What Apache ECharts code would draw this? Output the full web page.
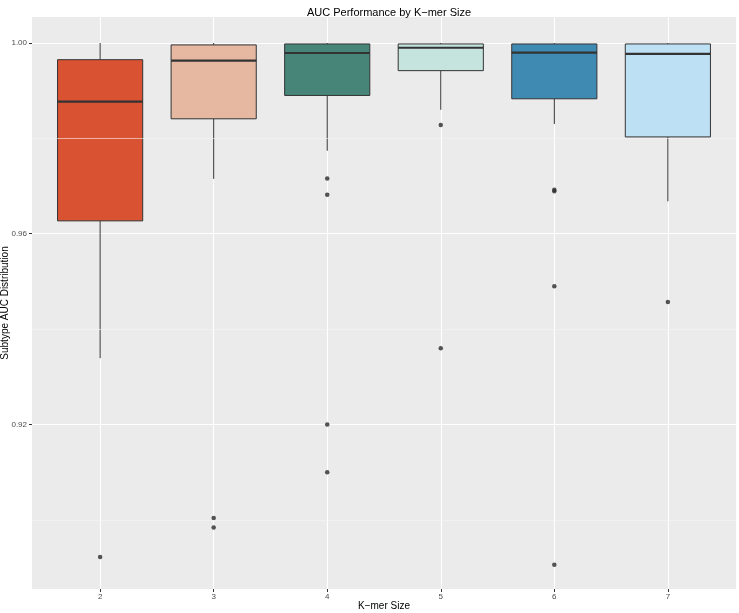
<!DOCTYPE html>
<html>
<head>
<meta charset="utf-8">
<script src="https://cdn.jsdelivr.net/npm/echarts@6/dist/echarts.min.js"></script>
<style>
html,body{margin:0;padding:0;background:#fff;}
#chart{width:739px;height:613px;}
</style>
</head>
<body>
<div id="chart"></div>
<script>
// ---- data ----
const kmerSizes   = [2, 3, 4, 5, 6, 7];
const whiskerLow  = [0.9339, 0.9715, 0.9774, 0.9860, 0.9830, 0.9668];
const q1Values    = [0.9627, 0.9841, 0.9890, 0.9942, 0.9883, 0.9803];
const medianVals  = [0.9877, 0.9963, 0.9979, 0.9990, 0.9980, 0.9977];
const q3Values    = [0.9965, 0.9996, 0.9998, 0.9998, 0.9998, 0.9998];
const whiskerHigh = [1.0000, 1.0000, 1.0000, 1.0000, 1.0000, 1.0000];
const outliers2 = [0.8922];
const outliers3 = [0.9004, 0.8984];
const outliers4 = [0.9716, 0.9682, 0.9200, 0.9100];
const outliers5 = [0.9828, 0.9360];
const outliers6 = [0.9692, 0.9689, 0.9490, 0.8906];
const outliers7 = [0.9457];
const yTickValues = [0.92, 0.96, 1.00];
const yMinorValues = [0.90, 0.94, 0.98];

// ---- styling ----
const boxColors = ['#D95232', '#E6B7A1', '#468578', '#C5E4DD', '#3F8AB3', '#BEE0F4'];

const boxData = kmerSizes.map((k, i) => [k, whiskerLow[i], q1Values[i], medianVals[i], q3Values[i], whiskerHigh[i]]);
const outlierLists = [outliers2, outliers3, outliers4, outliers5, outliers6, outliers7];
const outlierData = [];
outlierLists.forEach((list, i) => list.forEach(v => outlierData.push([kmerSizes[i], v])));

function renderBox(params, api) {
  const x = api.value(0);
  const lo = api.coord([x, api.value(1)]);
  const q1 = api.coord([x, api.value(2)]);
  const med = api.coord([x, api.value(3)]);
  const q3 = api.coord([x, api.value(4)]);
  const hi = api.coord([x, api.value(5)]);
  const half = api.size([0.75, 0])[0] / 2;
  const cx = lo[0];
  const stroke = '#333333';
  return {
    type: 'group',
    children: [
      {type: 'line', shape: {x1: cx, y1: hi[1], x2: cx, y2: q3[1]}, style: {stroke: stroke, lineWidth: 1}},
      {type: 'line', shape: {x1: cx, y1: q1[1], x2: cx, y2: lo[1]}, style: {stroke: stroke, lineWidth: 1}},
      {type: 'rect', shape: {x: cx - half, y: q3[1], width: half * 2, height: q1[1] - q3[1]},
        style: {fill: boxColors[params.dataIndex], stroke: stroke, lineWidth: 1}},
      {type: 'line', shape: {x1: cx - half, y1: med[1], x2: cx + half, y2: med[1]}, style: {stroke: stroke, lineWidth: 2.2}}
    ]
  };
}

const chart = echarts.init(document.getElementById('chart'), null, {renderer: 'canvas'});
chart.setOption({
  backgroundColor: '#ffffff',
  animation: false,
  title: {
    text: 'AUC Performance by K\u2212mer Size',
    left: 384, top: 2, textAlign: 'center',
    textStyle: {fontFamily: 'Liberation Sans', fontSize: 11, fontWeight: 'normal', color: '#000'}
  },
  grid: {left: 32, right: 3, top: 17, bottom: 24, containLabel: false, outerBoundsMode: 'none',
    show: true, backgroundColor: '#EBEBEB', borderWidth: 0},
  xAxis: {
    type: 'value', min: 1.4, max: 7.6,
    name: 'K\u2212mer Size', nameLocation: 'middle', nameGap: 12, nameMoveOverlap: false,
    nameTextStyle: {fontFamily: 'Liberation Sans', fontSize: 10, color: '#000'},
    axisLine: {show: false},
    axisTick: {show: true, customValues: kmerSizes, length: 3, lineStyle: {color: '#333', width: 1}},
    axisLabel: {customValues: kmerSizes, margin: 4, fontFamily: 'Liberation Sans', fontSize: 8, color: '#4D4D4D'},
    splitLine: {show: true, lineStyle: {color: '#ffffff', width: 1.1}}
  },
  yAxis: {
    type: 'value', min: 0.8855, max: 1.00545,
    name: 'Subtype AUC Distribution', nameLocation: 'middle', nameGap: 22, nameRotate: 90, nameMoveOverlap: false,
    nameTextStyle: {fontFamily: 'Liberation Sans', fontSize: 10, color: '#000'},
    axisLine: {show: false},
    axisTick: {show: true, customValues: yTickValues, length: 3, lineStyle: {color: '#333', width: 1}},
    axisLabel: {customValues: yTickValues, margin: 5, fontFamily: 'Liberation Sans', fontSize: 8, color: '#4D4D4D',
      formatter: v => v.toFixed(2)},
    splitLine: {show: true, lineStyle: {color: '#ffffff', width: 1.1}}
  },
  series: [
    {
      type: 'line', data: [], silent: true,
      markLine: {
        silent: true, symbol: 'none', label: {show: false}, animation: false,
        lineStyle: {color: '#F5F5F5', width: 0.6, type: 'solid'},
        data: yMinorValues.map(v => ({yAxis: v}))
      }
    },
    {type: 'custom', renderItem: renderBox, data: boxData, encode: {x: 0, y: [1, 2, 3, 4, 5]}, z: 3},
    {type: 'scatter', data: outlierData, symbol: 'circle', symbolSize: 4.5,
      itemStyle: {color: '#2B2B2B'}, z: 4}
  ]
});
</script>
</body>
</html>
